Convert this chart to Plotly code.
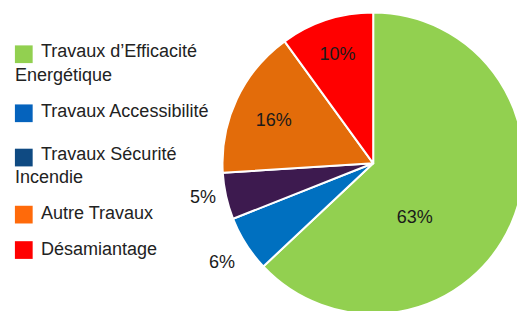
import plotly.graph_objects as go

# Data
categories = ["Travaux d'Efficacité Energétique", "Travaux Accessibilité",
              "Travaux Sécurité Incendie", "Autre Travaux", "Désamiantage"]
values = [63, 6, 5, 16, 10]
slice_colors = ["#92D050", "#0070C0", "#3D1A4F", "#E36C0A", "#FF0000"]
legend_colors = ["#92D050", "#0563BD", "#0F4A82", "#FF6A0A", "#FF0000"]
legend_lines = [["Travaux d\u2019Efficacité", "Energétique"],
                ["Travaux Accessibilité"],
                ["Travaux Sécurité", "Incendie"],
                ["Autre Travaux"],
                ["Désamiantage"]]
text_positions = ["inside", "outside", "outside", "inside", "inside"]

W, H = 525, 311
FONT = "Liberation Sans, Arial, sans-serif"
NB = "\u00a0"
# per-slice label templates (padding only nudges the label placement)
templates = [NB + "<br>" + NB + "<br>%{percent:.0%}" + NB * 11,
             NB + "<br>%{percent:.0%}",
             "%{percent:.0%}" + NB,
             "%{percent:.0%}" + NB * 3,
             "%{percent:.0%}"]

fig = go.Figure()
fig.add_trace(go.Pie(
    labels=categories,
    values=values,
    sort=False,
    direction="clockwise",
    rotation=0,
    marker=dict(colors=slice_colors, line=dict(color="white", width=2)),
    textinfo="percent",
    texttemplate=templates,
    textposition=text_positions,
    insidetextorientation="horizontal",
    textfont=dict(family=FONT, size=18, color="#1a1a1a"),
    showlegend=False,
    domain=dict(x=[0.41, 1.0], y=[0.0, 0.985]),
    hoverinfo="label+percent",
))

# Custom legend (squares + text), layout positions in pixels
square_tops = [38, 98, 143, 201, 237]
line_centers = [[44, 68], [105], [148, 172], [208], [245]]
sq = 18

def px(x):
    return x / W

def py(y):
    return 1 - y / H

shapes = []
annotations = []
for i, col in enumerate(legend_colors):
    t = square_tops[i]
    shapes.append(dict(type="rect", xref="paper", yref="paper",
                       x0=px(7), x1=px(7 + sq), y0=py(t + sq), y1=py(t),
                       fillcolor=col, line=dict(width=0)))
    for j, line in enumerate(legend_lines[i]):
        annotations.append(dict(
            text=line, xref="paper", yref="paper",
            x=px(31 if j == 0 else 5), y=py(line_centers[i][j]),
            xanchor="left", yanchor="middle", showarrow=False,
            font=dict(family=FONT, size=18, color="#222222")))

fig.update_layout(
    width=W, height=H,
    margin=dict(l=0, r=0, t=0, b=0),
    paper_bgcolor="white",
    plot_bgcolor="white",
    shapes=shapes,
    annotations=annotations,
)
fig.write_html("out.html")
